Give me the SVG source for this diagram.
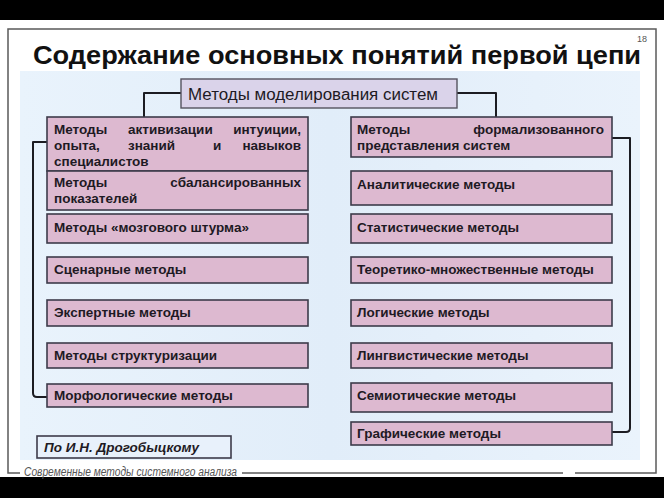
<svg xmlns="http://www.w3.org/2000/svg" width="664" height="498" viewBox="0 0 664 498">
<defs>
<linearGradient id="pg" x1="0" y1="0" x2="1" y2="0">
<stop offset="0" stop-color="#e9f3fc"/>
<stop offset="0.5" stop-color="#e1edf9"/>
<stop offset="1" stop-color="#eaf3fc"/>
</linearGradient>
</defs>
<style>
.bx{fill:#ddb9d0;stroke:#3d3b4a;stroke-width:1.6}
.tb{fill:#dad3ea;stroke:#55535f;stroke-width:1.4}
.t{font-family:"Liberation Sans",Arial,sans-serif;font-weight:bold;font-size:13.5px;fill:#1e1a24}
.c{fill:none;stroke:#1c1c22;stroke-width:2;stroke-linejoin:round}
</style>
<rect x="0" y="0" width="664" height="498" fill="#ffffff"/>
<rect x="0" y="0" width="664" height="20" fill="#000"/>
<rect x="0" y="477" width="664" height="21" fill="#000"/>
<rect x="8" y="29" width="648" height="444" fill="#fff" stroke="#5a5a5a" stroke-width="1.5"/>
<rect x="20" y="463" width="222" height="14" fill="#fff"/>
<rect x="563" y="466" width="12" height="10" fill="#fff"/>
<text x="24" y="476" font-family="Liberation Sans,Arial,sans-serif" font-style="italic" font-size="12" fill="#555" textLength="213" lengthAdjust="spacingAndGlyphs">Современные методы системного анализа</text>
<text x="637" y="42" font-family="Liberation Sans,Arial,sans-serif" font-size="9" fill="#555">18</text>
<text x="33" y="64" font-family="Liberation Sans,Arial,sans-serif" font-weight="bold" font-size="26.5" fill="#111" textLength="608" lengthAdjust="spacingAndGlyphs">Содержание основных понятий первой цепи</text>
<rect x="20" y="71" width="620" height="389" fill="url(#pg)"/>
<g id="connectors">
<path class="c" d="M181,93 H144 V117"/>
<path class="c" d="M457,93 H496 V117"/>
<path class="c" d="M47,142 H33 V393 Q33,397 37,397 H47"/>
<path class="c" d="M612,138 H630 V428 Q630,432 626,432 H612"/>
</g>
<g id="root">
<rect class="tb" x="181" y="79" width="276" height="29"/>
<text x="188" y="100" font-family="Liberation Sans,Arial,sans-serif" font-size="16" fill="#1e1a24" textLength="250" lengthAdjust="spacingAndGlyphs">Методы моделирования систем</text>
</g>
<g id="l1">
<rect class="bx" x="47" y="117" width="261" height="54"/>
<text class="t" x="54" y="134">Методы</text>
<text class="t" x="128" y="134">активизации</text>
<text class="t" x="301" y="134" text-anchor="end">интуиции,</text>
<text class="t" x="54" y="150">опыта,</text>
<text class="t" x="128" y="150">знаний</text>
<text class="t" x="213" y="150">и</text>
<text class="t" x="301" y="150" text-anchor="end">навыков</text>
<text class="t" x="54" y="166">специалистов</text>
</g>
<g id="l2">
<rect class="bx" x="47" y="171" width="261" height="39"/>
<text class="t" x="54" y="187">Методы</text>
<text class="t" x="301" y="187" text-anchor="end">сбалансированных</text>
<text class="t" x="54" y="203">показателей</text>
</g>
<g id="l3">
<rect class="bx" x="47" y="214" width="261" height="29"/>
<text class="t" x="54" y="232">Методы «мозгового штурма»</text>
</g>
<g id="l4">
<rect class="bx" x="47" y="257" width="261" height="26"/>
<text class="t" x="54" y="274">Сценарные методы</text>
</g>
<g id="l5">
<rect class="bx" x="47" y="300" width="261" height="26"/>
<text class="t" x="54" y="317">Экспертные методы</text>
</g>
<g id="l6">
<rect class="bx" x="47" y="343" width="261" height="25"/>
<text class="t" x="54" y="360">Методы структуризации</text>
</g>
<g id="l7">
<rect class="bx" x="47" y="384" width="261" height="23"/>
<text class="t" x="54" y="400">Морфологические методы</text>
</g>
<g id="r1">
<rect class="bx" x="351" y="117" width="261" height="40"/>
<text class="t" x="357" y="134">Методы</text>
<text class="t" x="604" y="134" text-anchor="end">формализованного</text>
<text class="t" x="357" y="150">представления систем</text>
</g>
<g id="r2">
<rect class="bx" x="351" y="171" width="261" height="34"/>
<text class="t" x="357" y="189">Аналитические методы</text>
</g>
<g id="r3">
<rect class="bx" x="351" y="214" width="261" height="29"/>
<text class="t" x="357" y="232">Статистические методы</text>
</g>
<g id="r4">
<rect class="bx" x="351" y="257" width="261" height="26"/>
<text class="t" x="357" y="274">Теоретико-множественные методы</text>
</g>
<g id="r5">
<rect class="bx" x="351" y="300" width="261" height="26"/>
<text class="t" x="357" y="317">Логические методы</text>
</g>
<g id="r6">
<rect class="bx" x="351" y="343" width="261" height="25"/>
<text class="t" x="357" y="360">Лингвистические методы</text>
</g>
<g id="r7">
<rect class="bx" x="351" y="383" width="261" height="29"/>
<text class="t" x="357" y="400">Семиотические методы</text>
</g>
<g id="r8">
<rect class="bx" x="351" y="422" width="261" height="23"/>
<text class="t" x="357" y="438">Графические методы</text>
</g>
<g id="source">
<rect x="37" y="436" width="194" height="22" fill="#e8f1fb" stroke="#3d3b4a" stroke-width="1.6"/>
<text x="44" y="452" font-family="Liberation Sans,Arial,sans-serif" font-weight="bold" font-style="italic" font-size="13.5" fill="#1e1a24">По И.Н. Дрогобыцкому</text>
</g>
</svg>
